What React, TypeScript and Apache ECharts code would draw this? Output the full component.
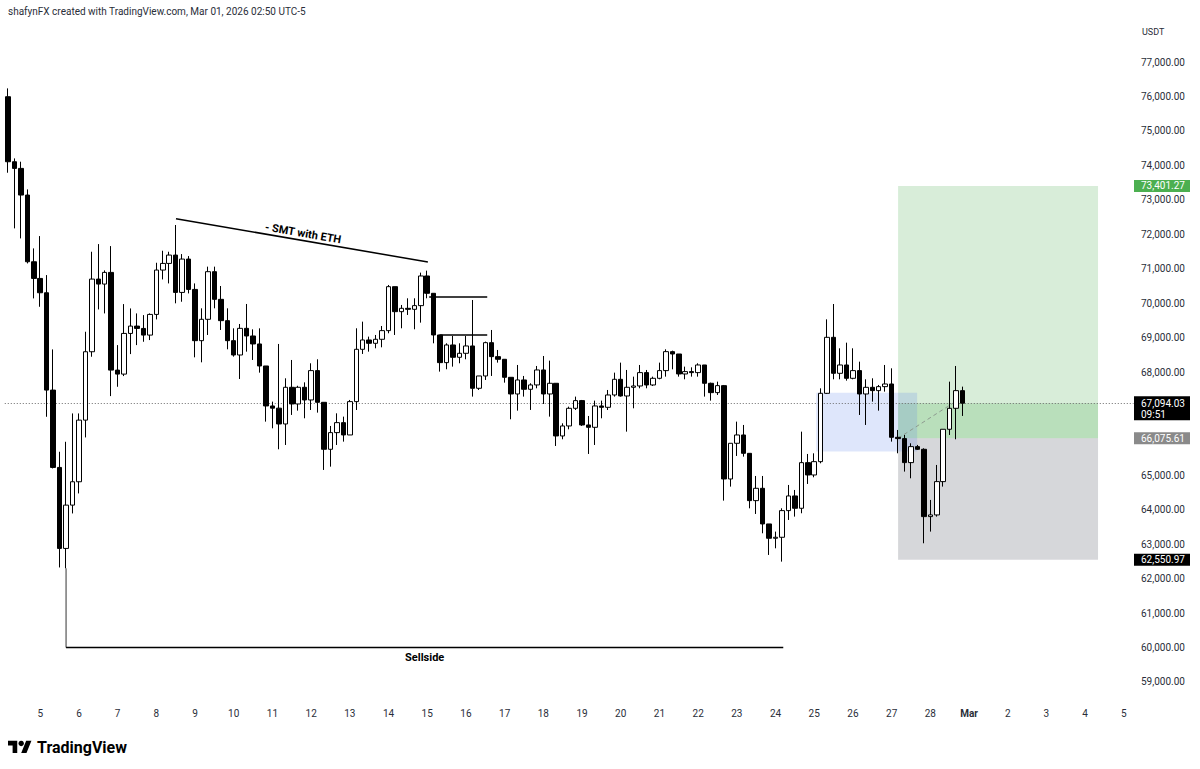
import React, { useEffect, useRef } from 'react';
import * as echarts from 'echarts';

// ---------- DATA ----------
const opens = [
  75993, 74105, 73912, 73138, 71201, 70717, 70301, 67475, 65229, 62877,
  64135, 64813, 66603, 68588, 70698, 70553, 70892, 68055, 67939, 69120,
  69333, 69265, 69072, 69672, 70960, 71153, 71395, 70311, 71279, 70398,
  68910, 69530, 70913, 70110, 69491, 68910, 68494, 69268, 69046, 68814,
  68175, 67014, 66950, 66491, 67556, 67072, 67556, 67188, 68040, 67120,
  65756, 66240, 66530, 66172, 67140, 68659, 68930, 68833, 68950, 69201,
  70478, 69752, 69849, 69820, 69927, 70788, 70285, 69075, 68272, 68785,
  68427, 68543, 68756, 67527, 67885, 68852, 68446, 68369, 67846, 67362,
  67769, 67498, 67624, 68059, 67362, 67672, 66143, 66433, 66946, 67169,
  66462, 66394, 67014, 66975, 67333, 67788, 67304, 67556, 67594, 67982,
  67623, 67817, 68040, 68591, 68523, 67943, 68011, 67982, 68204, 67672,
  67401, 67604, 64894, 65930, 66172, 65639, 64265, 64623, 63588, 63172,
  63201, 63975, 64401, 64043, 65368, 65010, 65397, 67381, 69007, 67962,
  68204, 67817, 68040, 67362, 67555, 67459, 67575, 67652, 66104, 66066,
  65369, 65833, 65756, 63801, 63850, 64817, 66337, 66946, 67459,
];
const closes = [
  74105, 73912, 73138, 71201, 70717, 70301, 67475, 65229, 62877, 64135,
  64813, 66603, 68588, 70698, 70553, 70892, 68055, 67939, 69120, 69333,
  69265, 69072, 69672, 70960, 71153, 71395, 70311, 71279, 70398, 68910,
  69530, 70913, 70110, 69491, 68910, 68494, 69268, 69046, 68814, 68175,
  67014, 66950, 66491, 67556, 67072, 67556, 67188, 68040, 67120, 65756,
  66240, 66530, 66172, 67140, 68659, 68930, 68833, 68950, 69201, 70478,
  69752, 69849, 69820, 69927, 70788, 70285, 69075, 68272, 68785, 68427,
  68543, 68756, 67527, 67885, 68852, 68446, 68369, 67846, 67362, 67769,
  67498, 67624, 68059, 67362, 67672, 66143, 66433, 66946, 67169, 66462,
  66394, 67014, 66975, 67333, 67788, 67304, 67556, 67594, 67982, 67623,
  67817, 68040, 68591, 68523, 67943, 68011, 67982, 68204, 67672, 67401,
  67604, 64894, 65930, 66172, 65639, 64265, 64623, 63588, 63172, 63201,
  63975, 64401, 64043, 65368, 65010, 65397, 67381, 69007, 67962, 68204,
  67817, 68040, 67362, 67555, 67459, 67575, 67652, 66104, 66066, 65369,
  65833, 65756, 63801, 63850, 64817, 66337, 66946, 67459, 67094.03,
];
const highs = [
  76235, 74202, 74106, 73302, 71589, 71947, 70814, 68656, 65684, 65974,
  66797, 66797, 69169, 71492, 71714, 70950, 71656, 68781, 69972, 69846,
  69701, 69652, 69701, 71172, 71521, 71492, 72268, 71424, 71366, 70572,
  69849, 71059, 71059, 70497, 69849, 69268, 69394, 69975, 69239, 69268,
  68175, 67140, 68814, 67817, 68349, 67600, 67700, 68253, 68369, 67120,
  66433, 66800, 66704, 67188, 69269, 69462, 69027, 69075, 69336, 70527,
  70478, 69946, 70140, 70140, 70885, 70943, 70285, 69075, 68833, 69046,
  68833, 69046, 70091, 67885, 68882, 69220, 68640, 68369, 67846, 68204,
  67885, 67672, 68175, 68465, 68330, 67672, 66510, 66994, 67285, 67188,
  66723, 67169, 67169, 67478, 67981, 68272, 68059, 67865, 68204, 68059,
  67865, 68272, 68659, 68620, 68523, 68156, 68136, 68253, 68204, 67691,
  67720, 67623, 65930, 66559, 66462, 65639, 64981, 64981, 63588, 63366,
  64043, 64720, 64575, 66268, 65620, 65639, 67526, 69529, 69974, 68688,
  68852, 68688, 68300, 67788, 67817, 67623, 68204, 68107, 66317, 66172,
  65930, 65882, 65785, 64285, 65301, 66337, 67720, 68175, 67575,
];
const lows = [
  73786, 72170, 71879, 71153, 70137, 69894, 66700, 65200, 62325, 62300,
  63893, 64474, 66100, 68443, 69817, 69701, 67300, 67571, 67882, 68520,
  68781, 68878, 68927, 69527, 70688, 70572, 69994, 70040, 70282, 68426,
  68281, 69075, 69849, 69220, 68659, 68446, 67797, 68591, 68349, 67981,
  66559, 66365, 65756, 65881, 66753, 66878, 66656, 66897, 66820, 65156,
  65252, 65881, 65978, 66172, 66897, 68524, 68591, 68688, 68717, 69124,
  69075, 69269, 69656, 69240, 69433, 70140, 68833, 68011, 68079, 68156,
  68253, 68369, 67285, 67478, 67769, 67885, 68272, 67691, 66627, 66878,
  67285, 66898, 67527, 67072, 66704, 65852, 66046, 66336, 66897, 66433,
  65620, 65881, 66656, 66897, 67285, 67285, 66268, 66946, 67527, 67527,
  67594, 67788, 67865, 68078, 67865, 67788, 67865, 67865, 67285, 67169,
  67333, 64265, 64672, 65562, 65542, 64042, 63878, 63317, 62688, 62881,
  62494, 63704, 63801, 63898, 64749, 64943, 65349, 67362, 67788, 67788,
  67749, 67788, 66752, 66462, 67139, 66878, 67430, 65978, 65640, 65108,
  64914, 65737, 63027, 63366, 63801, 64672, 66172, 66046, 66724,
];

// time axis: 4h candles, 6 per day; day ticks
const dayLabels = [
  '5', '6', '7', '8', '9', '10', '11', '12', '13', '14', '15', '16', '17', '18',
  '19', '20', '21', '22', '23', '24', '25', '26', '27', '28', 'Mar', '2', '3', '4', '5',
];
const monthLabels = ['Mar'];
const candlesPerDay = 6;
const firstDayIndex = 5;
const totalSlots = 175;

// price axis
const yMin = 58000;
const yMax = 78000;
const yStep = 1000;

// position / annotations (prices, candle indices)
const lastPrice = 67094.03;
const countdown = '09:51';
const targetPrice = 73401.27;
const entryPrice = 66075.61;
const stopPrice = 62550.97;
const positionStart = 138;
const positionEnd = 169;
const entryLineEnd = 146.5;
const fvgStart = 125.3;
const fvgEnd = 140.95;
const fvgTop = 67400;
const fvgBottom = 65690;
const smtFrom = [26.05, 72450];
const smtTo = [65.1, 71194];
const smtText = '- SMT with ETH';
const levelA = { from: 65.3, to: 74.3, price: 70178 };
const levelB = { from: 66.9, to: 74.3, price: 69075 };
const sellsideFrom = [9, 62300];
const sellsideTo = 120.2;
const sellsidePrice = 60000;
const sellsideText = 'Sellside';
const headerText = 'shafynFX created with TradingView.com, Mar 01, 2026 02:50 UTC-5';
const currencyText = 'USDT';
const brandText = 'TradingView';

const TV_LOGO_PATH = 'M14 22H7V11H0V4h14v18zM28 22h-8l7.5-18h8L28 22z';

const FONT = 'Roboto, "Noto Sans", "DejaVu Sans", sans-serif';

const fmt = (v: number) =>
  v.toLocaleString('en-US', { minimumFractionDigits: 2, maximumFractionDigits: 2 });

export default function App() {
  const ref = useRef<HTMLDivElement>(null);

  useEffect(() => {
    const el = ref.current;
    if (!el) return;
    try {
      echarts.graphic.registerShape('tvlogo', echarts.graphic.extendPath(TV_LOGO_PATH, {}) as any);
    } catch (e) {
      /* already registered */
    }
    const chart = echarts.init(el, null, { renderer: 'svg' });

    const categories = Array.from({ length: totalSlots }, (_, i) => String(i));
    const candleData = opens.map((o, i) => [o, closes[i], lows[i], highs[i]]);
    const tagPrices = [lastPrice, entryPrice, targetPrice, stopPrice];

    chart.setOption({
      animation: false,
      backgroundColor: '#ffffff',
      grid: { left: 4.775, right: 66.5, top: 27.6, bottom: 52.6, containLabel: false },
      xAxis: {
        type: 'category',
        data: categories,
        boundaryGap: true,
        axisLine: { show: false },
        axisTick: { show: false },
        splitLine: { show: false },
        axisLabel: {
          margin: -8,
          color: '#2a2e39',
          fontSize: 10,
          fontFamily: FONT,
          interval: (index: number) =>
            index >= firstDayIndex && (index - firstDayIndex) % candlesPerDay === 0,
          formatter: (_v: string, index: number) => {
            const k = (index - firstDayIndex) / candlesPerDay;
            const lab = dayLabels[k] ?? '';
            return monthLabels.includes(lab) ? `{b|${lab}}` : lab;
          },
          rich: {
            b: { fontWeight: 'bold', fontSize: 10, color: '#2a2e39', fontFamily: FONT },
          },
        },
      },
      yAxis: {
        type: 'value',
        position: 'right',
        min: yMin,
        max: yMax,
        interval: yStep,
        scale: true,
        axisLine: { show: false },
        axisTick: { show: false },
        splitLine: { show: false },
        axisLabel: {
          margin: 7.5,
          color: '#2a2e39',
          fontSize: 10,
          fontFamily: FONT,
          formatter: (v: number) => {
            if (v <= yMin || v >= yMax) return '';
            if (tagPrices.some((p) => Math.abs(p - v) < 300)) return '';
            return fmt(v);
          },
        },
      },
      series: [
        {
          type: 'candlestick',
          data: candleData,
          barWidth: 5,
          itemStyle: {
            color: '#ffffff',
            color0: '#000000',
            borderColor: '#000000',
            borderColor0: '#000000',
            borderWidth: 1,
          },
          markLine: {
            silent: true,
            symbol: 'none',
            label: { show: false },
            lineStyle: { type: [1, 2], color: '#6b6b6b', width: 1 },
            data: [{ yAxis: lastPrice }],
          },
          z: 5,
        },
      ],
    });

    const x0 = chart.convertToPixel({ xAxisIndex: 0 }, 0) as number;
    const x1 = chart.convertToPixel({ xAxisIndex: 0 }, 1) as number;
    const xAt = (i: number) => x0 + i * (x1 - x0);
    const yAt = (p: number) => chart.convertToPixel({ yAxisIndex: 0 }, p) as number;
    const axisRight = xAt(totalSlots - 0.5);

    const rect = (xa: number, xb: number, ya: number, yb: number, fill: string, z = 1) => ({
      type: 'rect',
      z,
      silent: true,
      shape: { x: Math.min(xa, xb), y: Math.min(ya, yb), width: Math.abs(xb - xa), height: Math.abs(yb - ya) },
      style: { fill },
    });
    const line = (xa: number, ya: number, xb: number, yb: number, stroke: string, lineWidth: number, dash?: number[], z = 3) => ({
      type: 'line',
      z,
      silent: true,
      shape: { x1: xa, y1: ya, x2: xb, y2: yb },
      style: { stroke, lineWidth, lineDash: dash ?? null },
    });
    const text = (
      x: number,
      y: number,
      t: string,
      font: string,
      fill: string,
      align: string = 'left',
      rotation = 0,
      z = 20,
    ) => ({
      type: 'text',
      z,
      silent: true,
      x,
      y,
      rotation,
      style: {
        text: t,
        font,
        fill,
        align,
        verticalAlign: 'middle',
        textAlign: align,
        textVerticalAlign: 'middle',
      },
    });

    const pxL = xAt(positionStart);
    const pxR = xAt(positionEnd);
    const yT = yAt(targetPrice);
    const yE = yAt(entryPrice);
    const yS = yAt(stopPrice);
    const yL = yAt(lastPrice);

    // SMT line geometry
    const sx1 = xAt(smtFrom[0]);
    const sy1 = yAt(smtFrom[1]);
    const sx2 = xAt(smtTo[0]);
    const sy2 = yAt(smtTo[1]);
    const ang = Math.atan2(sy2 - sy1, sx2 - sx1);
    const len = Math.hypot(sx2 - sx1, sy2 - sy1);
    const nx = (sy2 - sy1) / len;
    const ny = -(sx2 - sx1) / len;
    const mx = (sx1 + sx2) / 2 + nx * 7;
    const my = (sy1 + sy2) / 2 + ny * 7;

    const tagX = axisRight + 0.5;
    const tagW = 56;

    const elements: any[] = [
      // position tool
      rect(pxL, pxR, yT, yE, 'rgba(76,175,80,0.22)', 1),
      rect(pxL, pxR, yL, yE, 'rgba(76,175,80,0.22)', 1),
      rect(pxL, pxR, yE, yS, 'rgba(120,123,134,0.30)', 1),
      // fair value gap box
      rect(xAt(fvgStart), xAt(fvgEnd), yAt(fvgTop), yAt(fvgBottom), 'rgba(90,128,235,0.20)', 2),
      // entry -> current dashed
      line(pxL, yE, xAt(entryLineEnd), yL, '#8e9b90', 1, [4, 3], 3),
      // SMT
      line(sx1, sy1, sx2, sy2, '#000000', 1.5),
      text(mx, my, smtText, `bold 11px ${FONT}`, '#000000', 'center', -ang),
      // levels
      line(xAt(levelA.from), yAt(levelA.price), xAt(levelA.to), yAt(levelA.price), '#000000', 1.5),
      line(xAt(levelB.from), yAt(levelB.price), xAt(levelB.to), yAt(levelB.price), '#000000', 1.5),
      // sellside
      line(xAt(sellsideFrom[0]), yAt(sellsideFrom[1]), xAt(sellsideFrom[0]), yAt(sellsidePrice), '#333333', 1),
      line(xAt(sellsideFrom[0]), yAt(sellsidePrice), xAt(sellsideTo), yAt(sellsidePrice), '#000000', 1.5),
      text(
        (xAt(sellsideFrom[0]) + xAt(sellsideTo)) / 2,
        yAt(sellsidePrice) + 10,
        sellsideText,
        `bold 11px ${FONT}`,
        '#000000',
        'center',
      ),
      // price tags
      rect(tagX, tagX + tagW, yT - 6, yT + 6, '#4caf50', 15),
      text(tagX + 7, yT, fmt(targetPrice), `10px ${FONT}`, '#ffffff'),
      rect(tagX, tagX + tagW, yL - 7, yL + 17, '#000000', 15),
      text(tagX + 7, yL, fmt(lastPrice), `10px ${FONT}`, '#ffffff'),
      text(tagX + 7, yL + 11, countdown, `10px ${FONT}`, '#ffffff'),
      rect(tagX, tagX + tagW, yE - 6, yE + 6, '#8a8a8a', 15),
      text(tagX + 7, yE, fmt(entryPrice), `10px ${FONT}`, '#ffffff'),
      rect(tagX, tagX + tagW, yS - 6, yS + 6, '#000000', 15),
      text(tagX + 7, yS, fmt(stopPrice), `10px ${FONT}`, '#ffffff'),
      // header, currency, branding
      text(8, 11, headerText, `10px ${FONT}`, '#2a2e39'),
      text(tagX + 8, 32, currencyText, `9px ${FONT}`, '#2a2e39'),
      {
        type: 'tvlogo',
        z: 20,
        silent: true,
        x: 8,
        y: 738,
        scaleX: 0.66,
        scaleY: 0.68,
        style: { fill: '#000000' },
      },
      {
        type: 'circle',
        z: 20,
        silent: true,
        shape: { cx: 8 + 20 * 0.66, cy: 738 + 8 * 0.68, r: 2.7 },
        style: { fill: '#000000' },
      },
      text(37, 747, brandText, `bold 16px ${FONT}`, '#000000'),
    ];

    chart.setOption({ graphic: { elements } });

    return () => {
      chart.dispose();
    };
  }, []);

  return (
    <div
      ref={ref}
      style={{ position: 'fixed', left: 0, top: 0, width: 1200, height: 769, background: '#ffffff' }}
    />
  );
}
